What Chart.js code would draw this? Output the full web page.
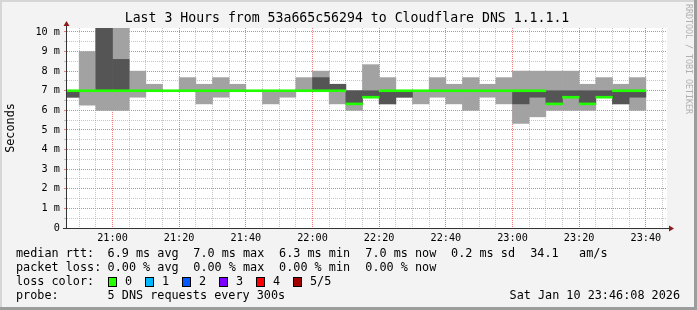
<!DOCTYPE html>
<html>
<head>
<meta charset="utf-8">
<script src="https://cdn.jsdelivr.net/npm/chart.js@4"></script>
<style>
  html, body { margin: 0; padding: 0; background: #f3f3f3; }
  canvas { display: block; }
</style>
</head>
<body>
<canvas id="chart" width="697" height="310"></canvas>
<script>
// one slot per 5 minute step, labelled by its end time
const slotEnds = [
  "20:50", "20:55", "21:00", "21:05", "21:10", "21:15", "21:20", "21:25", "21:30", "21:35",
  "21:40", "21:45", "21:50", "21:55", "22:00", "22:05", "22:10", "22:15", "22:20", "22:25",
  "22:30", "22:35", "22:40", "22:45", "22:50", "22:55", "23:00", "23:05", "23:10", "23:15",
  "23:20", "23:25", "23:30", "23:35", "23:40"
];
// sorted pings per slot, in ms: lowest, 2nd, median, 4th, highest
const pingMin = [
  6.67, 6.27, 6.0, 6.0, 6.67, 7.0, 7.0, 7.0, 6.33, 6.67,
  7.0, 7.0, 6.33, 6.67, 7.0, 7.0, 6.33, 6.0, 6.67, 6.33,
  6.67, 6.33, 6.67, 6.33, 6.0, 6.67, 6.33, 5.33, 5.67, 6.0,
  6.0, 6.0, 6.67, 6.33, 6.0
];
const pingLo = [
  6.67, 7.0, 7.0, 7.0, 7.0, 7.0, 7.0, 7.0, 7.0, 7.0,
  7.0, 7.0, 7.0, 7.0, 7.0, 7.0, 7.0, 6.33, 6.67, 6.33,
  6.67, 7.0, 7.0, 7.0, 7.0, 7.0, 7.0, 6.33, 6.67, 6.33,
  6.67, 6.33, 6.67, 6.33, 6.67
];
const pingMed = [
  7.0, 7.0, 7.0, 7.0, 7.0, 7.0, 7.0, 7.0, 7.0, 7.0,
  7.0, 7.0, 7.0, 7.0, 7.0, 7.0, 7.0, 6.33, 6.67, 7.0,
  7.0, 7.0, 7.0, 7.0, 7.0, 7.0, 7.0, 7.0, 7.0, 6.33,
  6.67, 6.33, 6.67, 7.0, 7.0
];
const pingHi = [
  7.0, 7.0, 10.7, 8.6, 7.0, 7.0, 7.0, 7.0, 7.0, 7.0,
  7.0, 7.0, 7.0, 7.0, 7.0, 7.67, 7.33, 7.0, 7.0, 7.0,
  7.0, 7.0, 7.0, 7.0, 7.0, 7.0, 7.0, 7.0, 7.0, 7.0,
  7.0, 7.0, 7.0, 7.0, 7.0
];
const pingMax = [
  7.0, 9.0, 11.5, 11.0, 8.0, 7.33, 7.0, 7.67, 7.33, 7.67,
  7.33, 7.0, 7.0, 7.0, 7.67, 8.0, 7.33, 7.0, 8.33, 7.67,
  7.0, 7.0, 7.67, 7.33, 7.67, 7.33, 7.67, 8.0, 8.0, 8.0,
  8.0, 7.33, 7.67, 7.33, 7.67
];
const xTickLabels = ["21:00", "21:20", "21:40", "22:00", "22:20", "22:40", "23:00", "23:20", "23:40"];
const yTickLabels = ["0", "1 m", "2 m", "3 m", "4 m", "5 m", "6 m", "7 m", "8 m", "9 m", "10 m"];
const lossLabels = ["0", "1", "2", "3", "4", "5/5"];
const lossColors = ["#26ff00", "#00b8ff", "#0059ff", "#7e00ff", "#ff0000", "#a10000"];
const legendRows = [
  [["median rtt:", 16], ["6.9 ms avg", 107.6], ["7.0 ms max", 193.3], ["6.3 ms min", 279.1], ["7.0 ms now", 365.3], ["0.2 ms sd", 451.1], ["34.1", 530.2], ["am/s", 579.1]],
  [["packet loss:", 16], ["0.00 % avg", 107.6], ["0.00 % max", 193.3], ["0.00 % min", 279.1], ["0.00 % now", 365.3]],
  [["loss color:", 16]],
  [["probe:", 16], ["5 DNS requests every 300s", 107.6]]
];

const MONO = "'DejaVu Sans Mono', monospace";
const RED = "rgba(240, 100, 100, 0.85)";
const GRAY = "rgba(150, 150, 150, 0.55)";
// minutes relative to 21:00, three hour window
const START = -13.65;
const END = START + 180;

const toMin = (t) => {
  const [h, m] = t.split(":").map(Number);
  return h * 60 + m - 21 * 60;
};
const xs = slotEnds.map((t) => toMin(t) - 2.5);
const band = (lo, hi) => xs.map((x, i) => ({ x, y: hi[i] > lo[i] ? [lo[i], hi[i]] : null }));
const median = xs.map((x, i) => ({ x, y: [pingMed[i] - 0.05, pingMed[i] + 0.05] }));

// grid steps: every 5 min / every 0.5 ms, majors every 20 min / 1 ms
const xTicks = [];
for (let v = -10; v <= 165; v += 5) xTicks.push(v);
const yTicks = [];
for (let i = 0; i <= 20; i++) yTicks.push(i / 2);
const xGrid = xTicks.map((v) => (v % 20 === 0 ? RED : GRAY));
const yGrid = yTicks.map((v) => (Number.isInteger(v) ? RED : GRAY));

const barStyle = { grouped: false, barPercentage: 1, categoryPercentage: 1, clip: 0, borderWidth: 0 };

const decor = {
  id: "decor",
  beforeDraw(chart) {
    const { ctx, chartArea: a, width, height } = chart;
    ctx.save();
    ctx.fillStyle = "#f3f3f3";
    ctx.fillRect(0, 0, width, height);
    ctx.fillStyle = "#d6d6d6";
    ctx.fillRect(0, 0, width, 2);
    ctx.fillRect(0, 0, 2, height);
    ctx.fillStyle = "#9c9c9c";
    ctx.fillRect(width - 3, 0, 3, height);
    ctx.fillRect(0, height - 3, width, 3);
    ctx.fillStyle = "#ffffff";
    ctx.fillRect(a.left, a.top, a.right - a.left, a.bottom - a.top);
    ctx.restore();
  },
  afterDraw(chart) {
    const { ctx, chartArea: a } = chart;
    ctx.save();
    // axes with arrows
    ctx.strokeStyle = "#333";
    ctx.lineWidth = 1;
    ctx.beginPath();
    ctx.moveTo(a.left - 0.5, a.bottom + 1);
    ctx.lineTo(a.left - 0.5, a.top - 4);
    ctx.moveTo(a.left - 4, a.bottom + 0.5);
    ctx.lineTo(a.right + 2, a.bottom + 0.5);
    ctx.stroke();
    ctx.fillStyle = "#8b1a1a";
    ctx.beginPath();
    ctx.moveTo(a.left - 0.5, a.top - 7);
    ctx.lineTo(a.left - 3.5, a.top - 2);
    ctx.lineTo(a.left + 2.5, a.top - 2);
    ctx.fill();
    ctx.beginPath();
    ctx.moveTo(a.right + 7, a.bottom + 0.5);
    ctx.lineTo(a.right + 2, a.bottom - 2.5);
    ctx.lineTo(a.right + 2, a.bottom + 3.5);
    ctx.fill();

    ctx.fillStyle = "#000";
    ctx.textBaseline = "middle";
    ctx.textAlign = "center";
    ctx.font = `13.2px ${MONO}`;
    ctx.fillText("Last 3 Hours from 53a665c56294 to Cloudflare DNS 1.1.1.1", 347, 18.5);

    ctx.font = `11.8px ${MONO}`;
    ctx.save();
    ctx.translate(10.5, (a.top + a.bottom) / 2);
    ctx.rotate(-Math.PI / 2);
    ctx.fillText("Seconds", 0, 0);
    ctx.restore();

    ctx.save();
    ctx.fillStyle = "#b0b0b0";
    ctx.font = `8.3px ${MONO}`;
    ctx.translate(688, 59);
    ctx.rotate(Math.PI / 2);
    ctx.fillText("RRDTOOL / TOBI OETIKER", 0, 0);
    ctx.restore();

    ctx.textAlign = "left";
    legendRows.forEach((row, r) => {
      const y = 254 + r * 14;
      row.forEach(([text, x]) => ctx.fillText(text, x, y));
    });
    lossLabels.forEach((label, i) => {
      const bx = 108.5 + i * 37;
      ctx.fillStyle = lossColors[i];
      ctx.fillRect(bx, 277.5, 8, 9);
      ctx.strokeStyle = "#000";
      ctx.strokeRect(bx, 277.5, 8, 9);
      ctx.fillStyle = "#000";
      ctx.fillText(label, bx + 16.5, 282);
    });
    ctx.textAlign = "right";
    ctx.fillText("Sat Jan 10 23:46:08 2026", 680, 296);
    ctx.restore();
  }
};

new Chart(document.getElementById("chart"), {
  type: "bar",
  data: {
    datasets: [
      { label: "median", data: median, backgroundColor: "#22ff00", order: 0, ...barStyle },
      { label: "inner", data: band(pingLo, pingHi), backgroundColor: "#555555", order: 1, ...barStyle },
      { label: "outer", data: band(pingMin, pingMax), backgroundColor: "#a2a2a2", order: 2, ...barStyle }
    ]
  },
  options: {
    responsive: false,
    animation: false,
    devicePixelRatio: 1,
    layout: { padding: { top: 28, right: 30, left: 0, bottom: 0 } },
    plugins: { legend: { display: false }, tooltip: { enabled: false }, title: { display: false } },
    scales: {
      x: {
        type: "linear",
        offset: false,
        min: START,
        max: END,
        afterBuildTicks: (s) => { s.ticks = xTicks.map((value) => ({ value })); },
        afterFit: (s) => { s.height = 82; },
        grid: { offset: false, color: xGrid, drawTicks: false },
        border: { display: false, dash: [1, 1] },
        ticks: {
          autoSkip: false,
          maxRotation: 0,
          padding: 4,
          color: "#000",
          font: { family: MONO, size: 10.2 },
          callback: (v) => (v % 20 === 0 ? xTickLabels[v / 20] : "")
        }
      },
      y: {
        min: 0,
        max: 10.2,
        afterBuildTicks: (s) => { s.ticks = yTicks.map((value) => ({ value })); },
        afterFit: (s) => { s.width = 67; },
        grid: { color: yGrid, drawTicks: true, tickLength: 3 },
        border: { display: false, dash: [1, 1] },
        ticks: {
          autoSkip: false,
          padding: 4,
          color: "#000",
          font: { family: MONO, size: 10.2 },
          callback: (v) => (Number.isInteger(v) ? yTickLabels[v] : "")
        }
      }
    }
  },
  plugins: [decor]
});
</script>
</body>
</html>
